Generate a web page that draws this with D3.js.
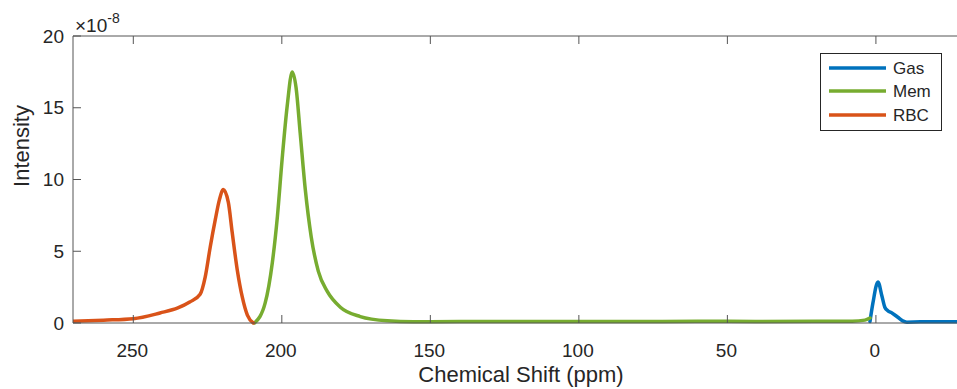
<!DOCTYPE html>
<html lang="en">
<head>
<meta charset="UTF-8">
<title>Chemical Shift spectrum</title>
<style>
  body { margin: 0; background: #fff; }
  svg text { font-family: "Liberation Sans", Arial, Helvetica, sans-serif; fill: #262626; }
  .axis-line { stroke: #555; stroke-width: 1; fill: none; }
  .curve { fill: none; stroke-width: 3.5; stroke-linejoin: round; stroke-linecap: round; }
</style>
</head>
<body>
<script src="https://cdn.jsdelivr.net/npm/d3@7"></script>
<script>
// values in units of 1e-8, x in ppm (listed left to right, high ppm to low ppm)
const rbcPpm = [270.3, 260, 250, 241, 235, 231, 227.5, 225.8, 224.1, 222.4, 221, 219.7, 218, 216.7, 215, 213.3, 211.6, 209.6];
const rbcVal = [0.12, 0.2, 0.3, 0.7, 1.05, 1.46, 2.0, 3.2, 5.3, 7.2, 8.6, 9.3, 8.4, 6.3, 3.7, 1.8, 0.55, 0.0];

const memPpm = [209.2, 205.6, 203.2, 201.5, 199.9, 198.2, 196.5, 195.2, 193.8, 192.1, 190.1, 187.7, 184.7, 180.3, 173.6, 164.5, 155.8, 140, 120, 100, 80, 60, 40, 20, 8, 3.7, 2];
const memVal = [0.0, 1.4, 4.2, 7.4, 11.4, 15.1, 17.5, 16.4, 13.2, 9.3, 6.0, 3.6, 2.2, 1.1, 0.45, 0.15, 0.08, 0.1, 0.1, 0.11, 0.1, 0.12, 0.11, 0.12, 0.13, 0.2, 0.35];

const gasPpm = [2, 1, -0.7, -2, -3, -4, -5.4, -7.4, -9, -10.4, -15, -20, -27.3];
const gasVal = [0.1, 1.4, 2.86, 1.9, 1.1, 0.85, 0.7, 0.4, 0.15, 0.06, 0.08, 0.08, 0.08];

const seriesNames = ["Gas", "Mem", "RBC"];
const seriesColors = ["#0072BD", "#77AC30", "#D95319"];
const xTicks = [250, 200, 150, 100, 50, 0];
const yTicks = [0, 5, 10, 15, 20];

const W = 957, H = 389;
const pL = 73, pR = 957, pT = 36, pB = 323;

const svg = d3.select("body").append("svg")
  .attr("width", W).attr("height", H);

const x = d3.scaleLinear().domain([270.3, -27.3]).range([pL, pR]);
const y = d3.scaleLinear().domain([0, 20]).range([pB, pT]);

const line = d3.line()
  .x(d => x(d[0]))
  .y(d => y(d[1]))
  .curve(d3.curveMonotoneX);

svg.append("clipPath").attr("id", "clip")
  .append("rect").attr("x", pL).attr("y", pT - 5).attr("width", pR - pL).attr("height", pB - pT + 10);
const plot = svg.append("g").attr("clip-path", "url(#clip)");

// draw curves: Gas, Mem, RBC
const curves = [
  d3.zip(gasPpm, gasVal),
  d3.zip(memPpm, memVal),
  d3.zip(rbcPpm, rbcVal)
];
curves.forEach((pts, i) => {
  plot.append("path")
    .attr("class", "curve")
    .attr("stroke", seriesColors[i])
    .attr("d", line(pts));
});

// axes (left/top/bottom visible, right side cropped)
const tickLen = 8;
svg.append("line").attr("class", "axis-line")
  .attr("x1", pL).attr("x2", pR).attr("y1", pB).attr("y2", pB);
svg.append("line").attr("class", "axis-line")
  .attr("x1", pL).attr("x2", pR).attr("y1", pT).attr("y2", pT);
svg.append("line").attr("class", "axis-line")
  .attr("x1", pL).attr("x2", pL).attr("y1", pT).attr("y2", pB);

// x ticks (inward, top and bottom)
const xt = svg.append("g");
xTicks.forEach(t => {
  xt.append("line").attr("class", "axis-line")
    .attr("x1", x(t)).attr("x2", x(t)).attr("y1", pB).attr("y2", pB - tickLen);
  xt.append("line").attr("class", "axis-line")
    .attr("x1", x(t)).attr("x2", x(t)).attr("y1", pT).attr("y2", pT + tickLen);
  xt.append("text")
    .attr("x", x(t) - 1).attr("y", 357)
    .attr("text-anchor", "middle")
    .style("font-size", "19px")
    .text(t);
});

// y ticks
const yt = svg.append("g");
yTicks.forEach(t => {
  yt.append("line").attr("class", "axis-line")
    .attr("x1", pL).attr("x2", pL + tickLen).attr("y1", y(t)).attr("y2", y(t));
  yt.append("text")
    .attr("x", 64).attr("y", y(t))
    .attr("dy", "0.35em")
    .attr("text-anchor", "end")
    .style("font-size", "19px")
    .text(t);
});

// exponent label
const expo = svg.append("text").attr("x", 75).attr("y", 32).style("font-size", "19px");
expo.append("tspan").text("\u00d710");
expo.append("tspan").attr("dy", -9).style("font-size", "14px").text("-8");

// axis labels
svg.append("text")
  .attr("x", 521).attr("y", 382)
  .attr("text-anchor", "middle")
  .style("font-size", "22px")
  .text("Chemical Shift (ppm)");

svg.append("text")
  .attr("transform", "translate(29,146) rotate(-90)")
  .attr("text-anchor", "middle")
  .style("font-size", "22px")
  .text("Intensity");

// legend
const lg = svg.append("g");
lg.append("rect")
  .attr("x", 820.5).attr("y", 53.5).attr("width", 121).attr("height", 77)
  .attr("fill", "#fff").attr("stroke", "#262626").attr("stroke-width", 1);
const rowsY = [68, 91, 115];
seriesNames.forEach((n, i) => {
  lg.append("line")
    .attr("x1", 829).attr("x2", 886)
    .attr("y1", rowsY[i]).attr("y2", rowsY[i])
    .attr("stroke", seriesColors[i]).attr("stroke-width", 3.5);
  lg.append("text")
    .attr("x", 893).attr("y", rowsY[i]).attr("dy", "0.35em")
    .style("font-size", "17px")
    .text(n);
});
</script>
</body>
</html>
